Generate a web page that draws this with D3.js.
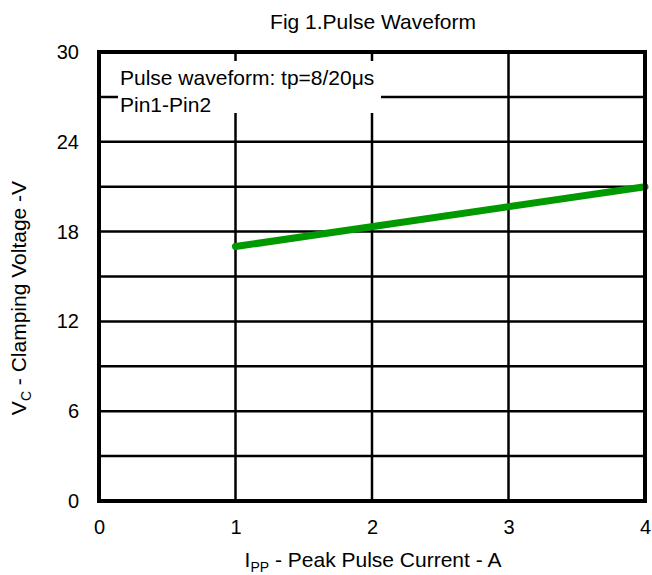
<!DOCTYPE html>
<html>
<head>
<meta charset="utf-8">
<script src="https://cdn.jsdelivr.net/npm/d3@7"></script>
<style>
  body { margin: 0; background: #fff; }
  svg text { font-family: "Liberation Sans", Arial, sans-serif; fill: #000; }
</style>
</head>
<body>
<div id="chart"></div>
<script>
const xTicks = [0, 1, 2, 3, 4];
const yTicks = [0, 6, 12, 18, 24, 30];
const yGrid = [3, 6, 9, 12, 15, 18, 21, 24, 27];
const current = [1, 4];
const voltage = [17, 21];

const margin = { top: 52, right: 7, bottom: 74, left: 99 };
const W = 652, H = 575;
const width = W - margin.left - margin.right;
const height = H - margin.top - margin.bottom;

const svg = d3.select("#chart").append("svg")
    .attr("width", W).attr("height", H);

const g = svg.append("g")
    .attr("transform", "translate(" + margin.left + "," + margin.top + ")");

const x = d3.scaleLinear().domain([0, 4]).range([0, width]);
const y = d3.scaleLinear().domain([0, 30]).range([height, 0]);

// grid
g.selectAll(".hgrid").data(yGrid).enter().append("line")
    .attr("x1", 0).attr("x2", width)
    .attr("y1", d => y(d)).attr("y2", d => y(d))
    .attr("stroke", "#000").attr("stroke-width", 2.5);

g.selectAll(".vgrid").data([1, 2, 3]).enter().append("line")
    .attr("x1", d => x(d)).attr("x2", d => x(d))
    .attr("y1", 0).attr("y2", height)
    .attr("stroke", "#000").attr("stroke-width", 2.5);

// legend box covering the grid
g.append("rect")
    .attr("x", 19).attr("y", 9)
    .attr("width", 263).attr("height", 52)
    .attr("fill", "#fff");
g.append("text").attr("x", 21).attr("y", 33)
    .style("font-size", "21px").text("Pulse waveform: tp=8/20μs");
g.append("text").attr("x", 21).attr("y", 60)
    .style("font-size", "21px").text("Pin1-Pin2");

// data line
const pts = current.map((c, i) => [c, voltage[i]]);
g.append("path")
    .datum(pts)
    .attr("fill", "none")
    .attr("stroke", "#009900")
    .attr("stroke-width", 7)
    .attr("stroke-linecap", "round")
    .attr("d", d3.line().x(d => x(d[0])).y(d => y(d[1])));

// frame
g.append("rect")
    .attr("x", 0).attr("y", 0)
    .attr("width", width).attr("height", height)
    .attr("fill", "none").attr("stroke", "#000").attr("stroke-width", 4);

// axes
const xAxis = g.append("g")
    .attr("transform", "translate(0," + height + ")")
    .call(d3.axisBottom(x).tickValues(xTicks).tickSize(0).tickPadding(19).tickFormat(d3.format("d")));
xAxis.select(".domain").remove();
xAxis.selectAll("text").style("font-size", "20px");

const yAxis = g.append("g")
    .call(d3.axisLeft(y).tickValues(yTicks).tickSize(0).tickPadding(20).tickFormat(d3.format("d")));
yAxis.select(".domain").remove();
yAxis.selectAll("text").style("font-size", "20px");

// title
svg.append("text")
    .attr("x", 373).attr("y", 29)
    .attr("text-anchor", "middle")
    .style("font-size", "21px")
    .text("Fig 1.Pulse Waveform");

// x title
const xt = svg.append("text")
    .attr("x", 373).attr("y", 567)
    .attr("text-anchor", "middle")
    .style("font-size", "21px");
xt.append("tspan").text("I");
xt.append("tspan").attr("dy", 5).style("font-size", "14px").text("PP");
xt.append("tspan").attr("dy", -5).text(" - Peak Pulse Current - A");

// y title
const yt = svg.append("text")
    .attr("transform", "translate(26,298) rotate(-90)")
    .attr("text-anchor", "middle")
    .style("font-size", "21px");
yt.append("tspan").text("V");
yt.append("tspan").attr("dy", 5).style("font-size", "14px").text("C");
yt.append("tspan").attr("dy", -5).text(" - Clamping Voltage -V");
</script>
</body>
</html>
